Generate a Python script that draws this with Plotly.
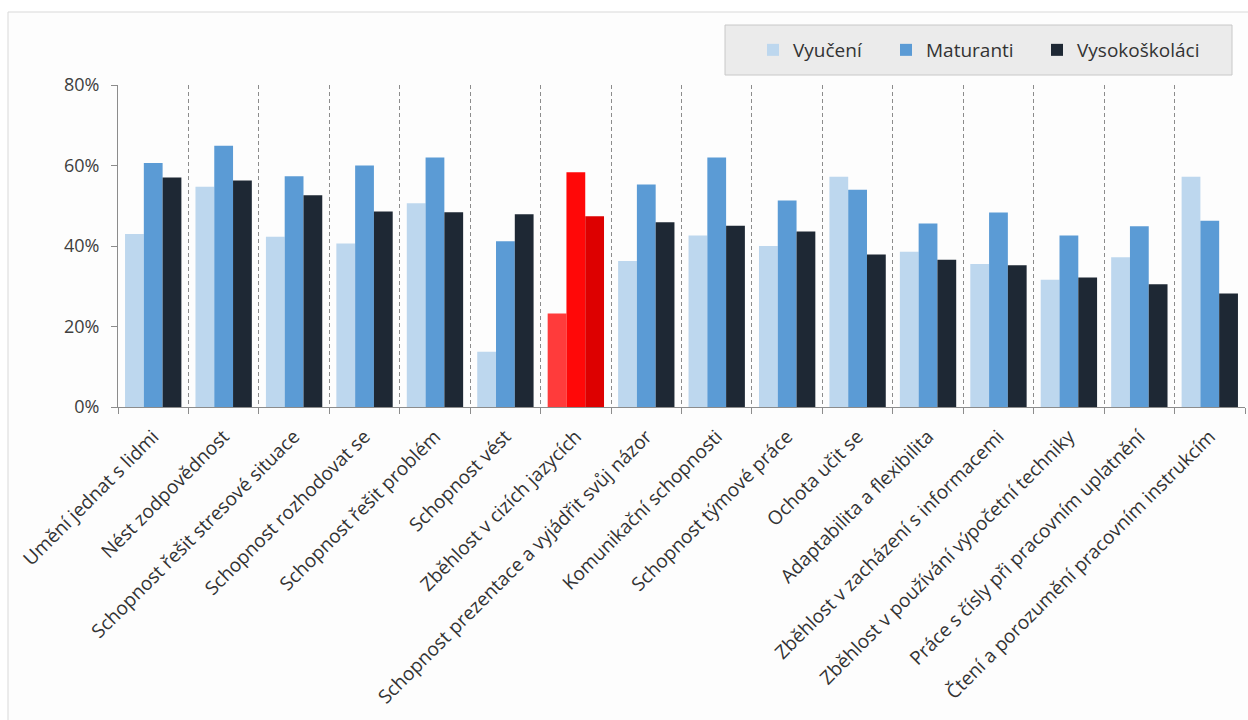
import plotly.graph_objects as go

# Skills valued by employers, by education level (share of respondents, %)
categories = [
    "Umění jednat s lidmi",
    "Nést zodpovědnost",
    "Schopnost řešit stresové situace",
    "Schopnost rozhodovat se",
    "Schopnost řešit problém",
    "Schopnost vést",
    "Zběhlost v cizích jazycích",
    "Schopnost prezentace a vyjádřit svůj názor",
    "Komunikační schopnosti",
    "Schopnost týmové práce",
    "Ochota učit se",
    "Adaptabilita a flexibilita",
    "Zběhlost v zacházení s informacemi",
    "Zběhlost v používání výpočetní techniky",
    "Práce s čísly při pracovním uplatnění",
    "Čtení a porozumění pracovním instrukcím",
]

vyuceni = [43.0, 54.7, 42.3, 40.6, 50.6, 13.7, 23.2, 36.3, 42.6, 40.0, 57.2, 38.6, 35.5, 31.6, 37.2, 57.2]
maturanti = [60.6, 64.9, 57.3, 60.0, 62.0, 41.2, 58.3, 55.3, 62.0, 51.3, 54.0, 45.6, 48.3, 42.6, 44.9, 46.3]
vysokoskolaci = [57.0, 56.3, 52.6, 48.6, 48.4, 47.9, 47.4, 45.9, 45.0, 43.6, 37.9, 36.6, 35.2, 32.2, 30.5, 28.2]

series_names = ["Vyučení", "Maturanti", "Vysokoškoláci"]
highlight = "Zběhlost v cizích jazycích"

base_colors = ["#BDD7EE", "#5B9BD5", "#1E2834"]
highlight_colors = ["#FF3B3B", "#FF0808", "#DD0000"]
legend_ids = ["legend", "legend2", "legend3"]

fig = go.Figure()
for name, values, base, hi, lg in zip(series_names, [vyuceni, maturanti, vysokoskolaci],
                                      base_colors, highlight_colors, legend_ids):
    colors = [hi if c == highlight else base for c in categories]
    fig.add_trace(go.Bar(
        x=categories, y=values, name=name, legend=lg,
        marker=dict(color=colors, line=dict(width=0)),
    ))

# Plot-area geometry in pixels
W, H = 1248, 720
L, R, T, B = 118, 1245, 85, 407
pw, ph = R - L, B - T

def px_x(v):
    return (v - L) / pw

def px_y(v):
    return (B - v) / ph

# Chart frame
fig.add_shape(type="rect", xref="paper", yref="paper",
              x0=px_x(8), x1=px_x(1262), y0=px_y(740), y1=px_y(12),
              line=dict(color="#D9D9D9", width=1), fillcolor="#FDFDFD",
              layer="below")

# Legend box
fig.add_shape(type="rect", xref="paper", yref="paper",
              x0=px_x(725), x1=px_x(1232), y0=px_y(75), y1=px_y(25),
              line=dict(color="#C8C8C8", width=1), fillcolor="#EBEBEB",
              layer="below")

font_family = "Open Sans, Noto Sans, DejaVu Sans, sans-serif"

def legend_at(px):
    return dict(
        orientation="h",
        x=px_x(px), y=px_y(50), xanchor="left", yanchor="middle",
        bgcolor="rgba(0,0,0,0)", borderwidth=0,
        font=dict(size=19, color="#333333"),
    )

fig.update_layout(
    width=W, height=H,
    margin=dict(l=L, r=W - R, t=T, b=H - B, pad=0),
    paper_bgcolor="white",
    plot_bgcolor="rgba(0,0,0,0)",
    barmode="group",
    bargap=0.2,
    bargroupgap=0,
    font=dict(family=font_family, color="#404040"),
    showlegend=True,
    legend=legend_at(753),
    legend2=legend_at(886),
    legend3=legend_at(1037),
    xaxis=dict(
        tickangle=-45,
        tickfont=dict(size=19, color="#333333"),
        ticklabelstandoff=10,
        tickson="boundaries",
        showgrid=True, gridcolor="#8C8C8C", griddash="4px,3px", gridwidth=1,
        showline=True, linecolor="#8C8C8C", linewidth=1,
        ticks="outside", ticklen=6, tickcolor="#8C8C8C",
        automargin=False,
    ),
    yaxis=dict(
        range=[0, 80], dtick=20, ticksuffix="%",
        tickfont=dict(size=18, color="#404040"),
        ticklabelstandoff=8,
        showgrid=False, zeroline=False,
        showline=True, linecolor="#8C8C8C", linewidth=1,
        ticks="outside", ticklen=6, tickcolor="#8C8C8C",
        automargin=False,
    ),
)

fig.write_html("out.html")
